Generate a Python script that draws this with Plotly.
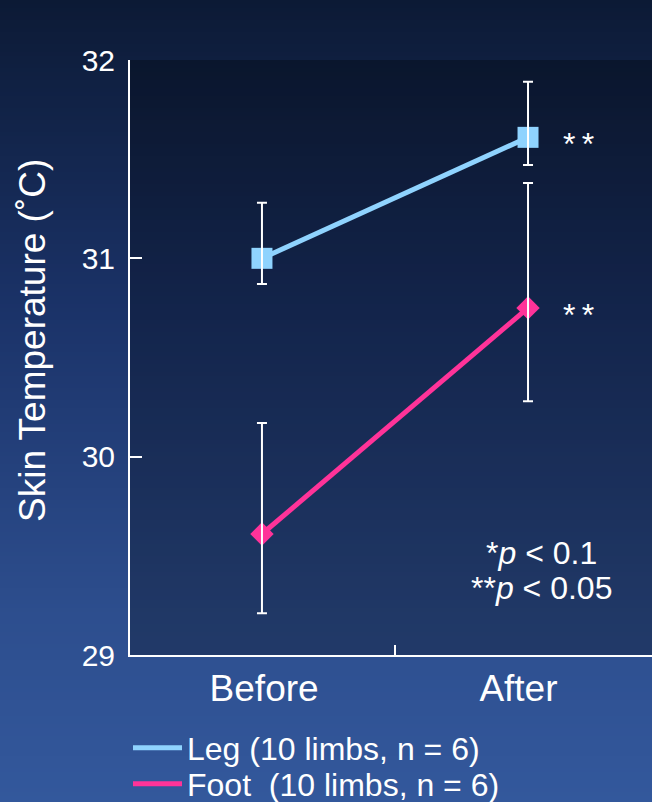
import plotly.graph_objects as go

# ---- data ----
categories = ["Before", "After"]
leg_mean = [31.00, 31.61]
leg_err_plus = [0.28, 0.28]
leg_err_minus = [0.13, 0.14]
foot_mean = [29.61, 30.75]
foot_err_plus = [0.56, 0.63]
foot_err_minus = [0.40, 0.47]
sig_labels = ["*\u2009*", "*\u2009*"]
pvalue_lines = ["*<i>p</i> < 0.1", "**<i>p</i> < 0.05"]
leg_name = "Leg (10 limbs, n = 6)"
foot_name = "Foot  (10 limbs, n = 6)"
y_ticks = [29, 30, 31, 32]

LEG_COLOR = "#8fd3fe"
FOOT_COLOR = "#ff3399"
FONT = "Liberation Sans, Arial, sans-serif"

W, H = 652, 802
ML, MR, MT, MB = 130, 0, 60, 147
PW, PH = W - ML - MR, H - MT - MB
Y0, Y1 = 29, 32

xpos = list(range(len(categories)))
# small horizontal nudges of the category labels, as in the original layout
label_nudge = [0.008, -0.036]


def py2paper(py):
    return (H - MB - py) / PH


def py2data(py):
    return Y0 + (H - MB - py) / PH * (Y1 - Y0)


fig = go.Figure()

# main traces (lines + markers)
fig.add_trace(go.Scatter(x=xpos, y=leg_mean, mode="lines+markers",
                         line=dict(color=LEG_COLOR, width=5),
                         marker=dict(symbol="square", size=21, color=LEG_COLOR),
                         showlegend=False, hoverinfo="skip"))
fig.add_trace(go.Scatter(x=xpos, y=foot_mean, mode="lines+markers",
                         line=dict(color=FOOT_COLOR, width=5),
                         marker=dict(symbol="diamond", size=18, color=FOOT_COLOR),
                         showlegend=False, hoverinfo="skip"))
# error bars drawn on top of markers
for m, ep, em in [(leg_mean, leg_err_plus, leg_err_minus),
                  (foot_mean, foot_err_plus, foot_err_minus)]:
    fig.add_trace(go.Scatter(x=xpos, y=m, mode="markers",
                             marker=dict(size=1, color="rgba(0,0,0,0)"),
                             error_y=dict(type="data", symmetric=False, array=ep,
                                          arrayminus=em, color="white",
                                          thickness=2, width=5),
                             showlegend=False, hoverinfo="skip"))
# legend-only traces (each in its own legend for exact row placement)
fig.add_trace(go.Scatter(x=[None], y=[None], mode="lines", name=leg_name,
                         line=dict(color=LEG_COLOR, width=5), legend="legend"))
fig.add_trace(go.Scatter(x=[None], y=[None], mode="lines", name=foot_name,
                         line=dict(color=FOOT_COLOR, width=5), legend="legend2"))

# ---- background gradient via bands ----
stops = [(0, (0x0c, 0x1a, 0x35)), (315, (0x1b, 0x33, 0x69)),
         (615, (0x2d, 0x4e, 0x8e)), (802, (0x33, 0x58, 0x9c))]


def col_at(py):
    for (a, ca), (b, cb) in zip(stops[:-1], stops[1:]):
        if a <= py <= b:
            t = (py - a) / (b - a)
            return tuple(round(ca[i] + (cb[i] - ca[i]) * t) for i in range(3))
    return stops[-1][1]


shapes = []
step = 4
for py in range(0, H, step):
    c = col_at(py + step / 2)
    shapes.append(dict(type="rect", xref="paper", yref="paper",
                       x0=-ML / PW - 0.01, x1=1 + MR / PW + 0.01,
                       y0=py2paper(py + step + 0.5), y1=py2paper(py),
                       fillcolor="rgb(%d,%d,%d)" % c, line=dict(width=0),
                       layer="below"))
# darker plot area
shapes.append(dict(type="rect", xref="paper", yref="paper", x0=0, x1=1.01,
                   y0=0, y1=1, fillcolor="rgba(0,0,0,0.28)",
                   line=dict(width=0), layer="below"))

annotations = []
# significance marks
for i, ymean in enumerate([leg_mean[1], foot_mean[1]]):
    annotations.append(dict(x=1.19, y=ymean, xref="x", yref="y", text=sig_labels[i],
                            showarrow=False, yshift=-7,
                            font=dict(family=FONT, size=32, color="white")))
# p-value key
for txt, py in zip(pvalue_lines, [553, 588]):
    annotations.append(dict(x=1.05, y=py2data(py), xref="x", yref="y",
                            text=txt, showarrow=False, xanchor="center",
                            yanchor="middle",
                            font=dict(family=FONT, size=32, color="white")))
# y-axis title
annotations.append(dict(x=(32 - ML) / PW, y=py2paper(341), xref="paper", yref="paper",
                        text="Skin Temperature (˚C)", textangle=-90, showarrow=False,
                        xanchor="center", yanchor="middle",
                        font=dict(family=FONT, size=37, color="white")))

legend_common = dict(xanchor="left", yanchor="middle", bgcolor="rgba(0,0,0,0)",
                     font=dict(family=FONT, size=32, color="white"),
                     itemwidth=49, borderwidth=0)

fig.update_layout(
    width=W, height=H,
    margin=dict(l=ML, r=MR, t=MT, b=MB, pad=0, autoexpand=False),
    paper_bgcolor="#0c1a35",
    plot_bgcolor="rgba(0,0,0,0)",
    shapes=shapes,
    annotations=annotations,
    showlegend=True,
    legend=dict(x=-2 / PW, y=py2paper(748), **legend_common),
    legend2=dict(x=-2 / PW, y=py2paper(784), **legend_common),
    xaxis=dict(range=[-0.496, 1.466],
               tickvals=[p + d for p, d in zip(xpos, label_nudge)],
               ticktext=categories,
               ticks="", showgrid=False, zeroline=False,
               showline=True, linecolor="white", linewidth=2,
               ticklabelstandoff=0,
               tickfont=dict(family=FONT, size=37, color="white"),
               minor=dict(tickvals=[0.5], ticks="inside", ticklen=10,
                          tickwidth=2, tickcolor="white", showgrid=False)),
    yaxis=dict(range=[Y0, Y1], tickvals=y_ticks, ticks="inside", ticklen=12,
               tickwidth=2, tickcolor="white", showgrid=False, zeroline=False,
               showline=True, linecolor="white", linewidth=2,
               ticklabelstandoff=7,
               tickfont=dict(family=FONT, size=30, color="white")),
)

fig.write_html("out.html", config={"displayModeBar": False},
               post_script="document.body.style.margin='0';")
